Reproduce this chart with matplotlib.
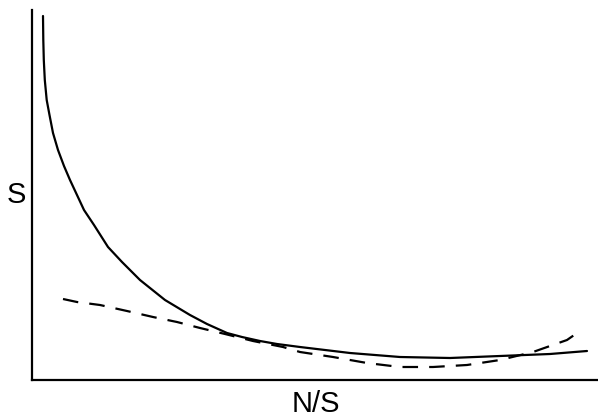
import matplotlib.pyplot as plt

# values (arbitrary units, origin at the axes corner)
solid_x = [11, 11.3, 11.8, 12.8, 14.7, 17.5, 21, 26, 32, 38, 45, 52, 62, 76, 90,
           108, 133, 158, 175, 195, 210, 228, 245, 268, 318, 368, 418, 468, 518, 555]
solid_y = [364, 340, 320, 300, 280, 265, 247, 230, 214, 200, 185, 170, 155, 133,
           118, 100, 80, 65, 56, 47, 43, 39, 36, 33, 27, 23, 22, 24, 26, 29]

dashed_x = [31, 45, 68, 95, 121, 145, 168, 193, 221, 251, 268, 301, 335, 368,
            401, 435, 468, 501, 535, 548]
dashed_y = [81, 78, 75, 69, 63, 58, 52, 46, 39, 33, 28, 23, 17, 13, 13, 15, 20,
            28, 40, 49]

x_label = "N/S"
y_label = "S"

plt.rcParams['font.family'] = ['Liberation Sans', 'DejaVu Sans']

fig = plt.figure(figsize=(5.98, 4.20), dpi=100)
ax = fig.add_axes([32 / 598, 40 / 420, 566 / 598, 370 / 420])

ax.plot(solid_x, solid_y, "-", color="black", lw=1.6,
        solid_capstyle="round", solid_joinstyle="round")
ax.plot(dashed_x, dashed_y, color="black", lw=1.6, dashes=(7, 5))

ax.set_xlim(0, 566)
ax.set_ylim(0, 370)
ax.set_xticks([])
ax.set_yticks([])
for side in ("top", "right"):
    ax.spines[side].set_visible(False)
for side in ("left", "bottom"):
    ax.spines[side].set_linewidth(1.6)

fig.text(16 / 598, 1 - 195 / 420, y_label, fontsize=21, ha="center", va="center")
fig.text(316 / 598, 1 - 404 / 420, x_label, fontsize=21, ha="center", va="center")

fig.savefig("out.png", dpi=100)
